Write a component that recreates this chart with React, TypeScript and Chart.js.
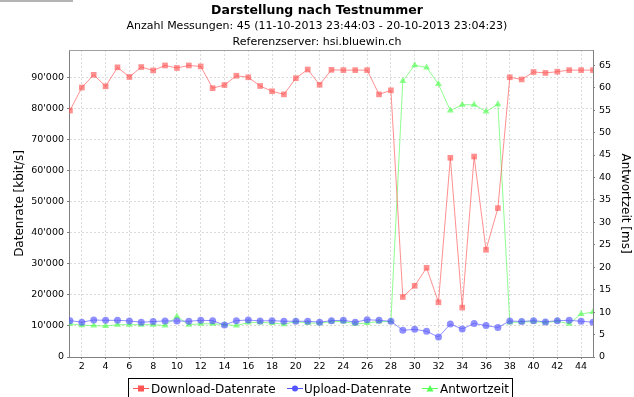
import React, { useEffect, useRef } from "react";
import { Chart, registerables } from "chart.js";

Chart.register(...registerables);

const FONT = "'DejaVu Sans', sans-serif";

const titleText = "Darstellung nach Testnummer";
const subtitle1 = "Anzahl Messungen: 45 (11-10-2013 23:44:03 - 20-10-2013 23:04:23)";
const subtitle2 = "Referenzserver: hsi.bluewin.ch";
const leftAxisTitle = "Datenrate [kbit/s]";
const rightAxisTitle = "Antwortzeit [ms]";
const seriesNames = ["Download-Datenrate", "Upload-Datenrate", "Antwortzeit"];

const testNummer = [1, 2, 3, 4, 5, 6, 7, 8, 9, 10, 11, 12, 13, 14, 15, 16, 17, 18, 19, 20, 21, 22, 23, 24, 25, 26, 27, 28, 29, 30, 31, 32, 33, 34, 35, 36, 37, 38, 39, 40, 41, 42, 43, 44, 45];

const downloadKbit = [79300, 86700, 90800, 87100, 93200, 90100, 93300, 92200, 93800, 93000, 93800, 93500, 86500, 87500, 90500, 90000, 87200, 85500, 84500, 89700, 92500, 87600, 92400, 92300, 92300, 92300, 84500, 85800, 19300, 22900, 28700, 17600, 64100, 15900, 64500, 34500, 47900, 90000, 89300, 91700, 91400, 91800, 92300, 92300, 92300];

const uploadKbit = [11700, 11200, 11900, 11800, 11800, 11600, 11200, 11400, 11600, 11600, 11500, 11800, 11700, 10300, 11700, 11900, 11600, 11700, 11500, 11500, 11500, 11200, 11700, 11800, 11200, 12000, 11800, 11500, 8600, 8900, 8300, 6400, 10600, 9000, 10800, 10100, 9500, 11600, 11400, 11700, 11300, 11700, 11800, 11500, 11200];

const antwortzeitMs = [7.4, 7.1, 7.0, 6.9, 7.2, 7.2, 7.2, 7.2, 7.0, 9.0, 7.2, 7.4, 7.4, 7.2, 7.0, 7.7, 7.7, 7.6, 7.3, 7.9, 7.6, 7.5, 7.9, 7.9, 7.4, 7.6, 7.9, 7.9, 61.5, 65.0, 64.5, 60.8, 54.9, 56.2, 56.2, 54.7, 56.3, 7.7, 7.8, 7.9, 7.7, 8.0, 7.4, 9.6, 10.0];

const xTickValues = [2, 4, 6, 8, 10, 12, 14, 16, 18, 20, 22, 24, 26, 28, 30, 32, 34, 36, 38, 40, 42, 44];
const leftTickValues = [0, 10000, 20000, 30000, 40000, 50000, 60000, 70000, 80000, 90000];
const rightTickValues = [0, 5, 10, 15, 20, 25, 30, 35, 40, 45, 50, 55, 60, 65];

const RED = "rgba(255,85,85,0.65)";
const BLUE = "rgba(85,85,255,0.65)";
const GREEN = "rgba(85,255,85,0.65)";
const RED_SOLID = "#ff5555";
const BLUE_SOLID = "#5555ff";
const GREEN_SOLID = "#55ff55";

const fmtThousands = (v: number) => {
  if (v === 0) return "0";
  const s = String(Math.round(v));
  return s.replace(/\B(?=(\d{3})+(?!\d))/g, "'");
};

const toPoints = (ys: number[]) => testNummer.map((x, i) => ({ x, y: ys[i] }));

const decorPlugin = {
  id: "decor",
  beforeDraw(chart: any) {
    const { ctx, width, height } = chart;
    ctx.save();
    ctx.fillStyle = "#ffffff";
    ctx.fillRect(0, 0, width, height);
    ctx.restore();
  },
  beforeDatasetsDraw(chart: any) {
    const { ctx, chartArea } = chart;
    ctx.save();
    ctx.strokeStyle = "#a0a0a0";
    ctx.lineWidth = 1;
    ctx.beginPath();
    ctx.moveTo(chartArea.left, Math.round(chartArea.top) + 0.5);
    ctx.lineTo(chartArea.right, Math.round(chartArea.top) + 0.5);
    ctx.stroke();
    ctx.restore();
  },
  afterDraw(chart: any) {
    const { ctx, width } = chart;
    ctx.save();
    ctx.fillStyle = "#000000";
    ctx.textAlign = "center";
    ctx.textBaseline = "alphabetic";
    ctx.font = `bold 12.5px ${FONT}`;
    ctx.fillText(titleText, width / 2, 14);
    ctx.font = `11px ${FONT}`;
    ctx.fillText(subtitle1, width / 2, 29);
    ctx.fillText(subtitle2, width / 2, 45);

    // legend
    ctx.strokeStyle = "#000000";
    ctx.lineWidth = 1;
    ctx.strokeRect(128.5, 378.5, 384, 40);
    const items = [
      { label: seriesNames[0], color: RED_SOLID, shape: "square", x0: 133, mx: 141, tx: 151 },
      { label: seriesNames[1], color: BLUE_SOLID, shape: "circle", x0: 287, mx: 295, tx: 304 },
      { label: seriesNames[2], color: GREEN_SOLID, shape: "triangle", x0: 422, mx: 430, tx: 440 },
    ];
    const ly = 388;
    for (const it of items) {
      ctx.strokeStyle = it.color;
      ctx.fillStyle = it.color;
      ctx.lineWidth = 1;
      ctx.beginPath();
      ctx.moveTo(it.x0, ly + 0.5);
      ctx.lineTo(it.x0 + 16, ly + 0.5);
      ctx.stroke();
      ctx.beginPath();
      if (it.shape === "square") {
        ctx.fillRect(it.mx - 3, ly - 2.5, 6, 6);
      } else if (it.shape === "circle") {
        ctx.arc(it.mx, ly + 0.5, 3, 0, Math.PI * 2);
        ctx.fill();
      } else {
        ctx.moveTo(it.mx, ly - 3);
        ctx.lineTo(it.mx + 3.5, ly + 3.5);
        ctx.lineTo(it.mx - 3.5, ly + 3.5);
        ctx.closePath();
        ctx.fill();
      }
      ctx.fillStyle = "#000000";
      ctx.textAlign = "left";
      ctx.font = `12px ${FONT}`;
      ctx.fillText(it.label, it.tx, 392.5);
    }
    ctx.restore();
  },
};

export default function App() {
  const canvasRef = useRef<HTMLCanvasElement | null>(null);

  useEffect(() => {
    if (!canvasRef.current) return;
    const chart = new Chart(canvasRef.current, {
      type: "line",
      data: {
        datasets: [
          {
            label: seriesNames[0],
            data: toPoints(downloadKbit),
            yAxisID: "yLeft",
            borderColor: RED,
            backgroundColor: RED,
            borderWidth: 1,
            pointStyle: "rect",
            pointRadius: 4,
            pointBorderWidth: 0,
            pointBackgroundColor: RED,
            tension: 0,
          },
          {
            label: seriesNames[1],
            data: toPoints(uploadKbit),
            yAxisID: "yLeft",
            borderColor: BLUE,
            backgroundColor: BLUE,
            borderWidth: 1,
            pointStyle: "circle",
            pointRadius: 3.5,
            pointBorderWidth: 0,
            pointBackgroundColor: BLUE,
            tension: 0,
          },
          {
            label: seriesNames[2],
            data: toPoints(antwortzeitMs),
            yAxisID: "yRight",
            borderColor: GREEN,
            backgroundColor: GREEN,
            borderWidth: 1,
            pointStyle: "triangle",
            pointRadius: 4,
            pointBorderWidth: 0,
            pointBackgroundColor: GREEN,
            tension: 0,
          },
        ],
      },
      options: {
        animation: false,
        responsive: false,
        devicePixelRatio: 1,
        layout: { padding: { top: 50, left: 0, right: 0, bottom: 0 } },
        plugins: {
          legend: { display: false },
          title: { display: false },
          tooltip: { enabled: false },
        },
        scales: {
          x: {
            type: "linear",
            min: 0.92,
            max: 45,
            afterBuildTicks: (scale: any) => {
              scale.ticks = xTickValues.map((v) => ({ value: v }));
            },
            afterFit: (scale: any) => {
              scale.height = 40;
            },
            ticks: {
              font: { family: FONT, size: 9.5 },
              color: "#000000",
              padding: 2,
              maxRotation: 0,
              autoSkip: false,
              callback: (v: any) => String(v),
            },
            grid: {
              color: "rgba(0,0,0,0.14)",
              tickColor: "#808080",
              tickLength: 2,
            },
            border: { display: true, color: "#808080", dash: [2, 2] },
          },
          yLeft: {
            type: "linear",
            position: "left",
            min: 0,
            max: 98780,
            afterBuildTicks: (scale: any) => {
              scale.ticks = leftTickValues.map((v) => ({ value: v }));
            },
            afterFit: (scale: any) => {
              scale.width = 69;
            },
            ticks: {
              font: { family: FONT, size: 9.5 },
              color: "#000000",
              padding: 3,
              callback: (v: any) => fmtThousands(Number(v)),
            },
            grid: {
              color: "rgba(0,0,0,0.14)",
              tickColor: "#808080",
              tickLength: 2,
            },
            border: { display: true, color: "#808080", dash: [2, 2] },
            title: {
              display: true,
              text: leftAxisTitle,
              font: { family: FONT, size: 12 },
              color: "#000000",
              padding: { top: 13, bottom: 0 },
            },
          },
          yRight: {
            type: "linear",
            position: "right",
            min: 0,
            max: 68.4,
            afterBuildTicks: (scale: any) => {
              scale.ticks = rightTickValues.map((v) => ({ value: v }));
            },
            afterFit: (scale: any) => {
              scale.width = 41;
            },
            ticks: {
              font: { family: FONT, size: 9.5 },
              color: "#000000",
              padding: 4,
              callback: (v: any) => String(v),
            },
            grid: {
              drawOnChartArea: false,
              color: "#808080",
              tickColor: "#808080",
              tickLength: 2,
            },
            border: { display: true, color: "#808080" },
            title: {
              display: true,
              text: rightAxisTitle,
              font: { family: FONT, size: 12 },
              color: "#000000",
              padding: { top: 2, bottom: 0 },
            },
          },
        },
      },
      plugins: [decorPlugin],
    } as any);
    return () => chart.destroy();
  }, []);

  return (
    <div style={{ position: "fixed", left: 0, top: 0, width: 634, height: 397, background: "#fff" }}>
      <canvas ref={canvasRef} width={634} height={397} style={{ display: "block", width: 634, height: 397 }} />
      <div style={{ position: "absolute", left: 0, top: 0, width: 73, height: 2, background: "#b4b4b4" }} />
    </div>
  );
}
